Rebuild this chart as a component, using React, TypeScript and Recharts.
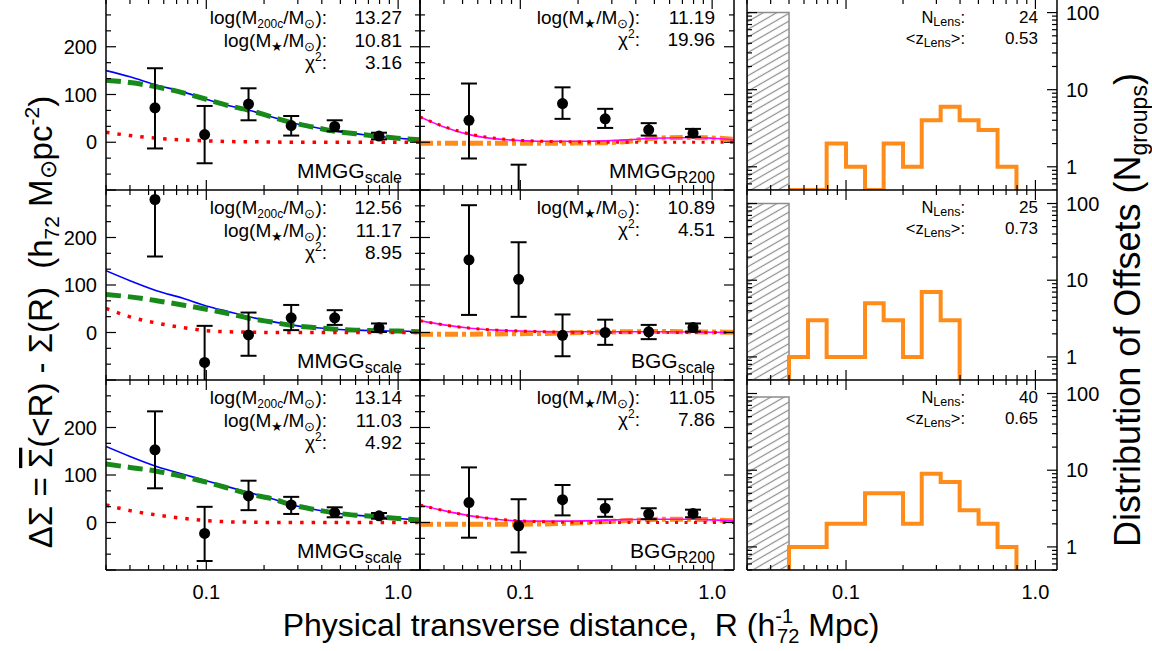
import React from 'react';
import { ComposedChart, Line, Scatter, XAxis, YAxis, ErrorBar, ReferenceArea } from 'recharts';

const FONT = '"Liberation Sans", Arial, Helvetica, sans-serif';

// radial bins of the measured shear profiles (h72^-1 Mpc)
const radii = [0.054, 0.098, 0.166, 0.277, 0.467, 0.795];
const modelR = [0.03, 0.04, 0.055, 0.075, 0.1, 0.13, 0.167, 0.22, 0.28, 0.36, 0.47, 0.6, 0.8, 1.0, 1.3];

// ---- left column: MMGG_scale, halo + stellar fit ----
const obsL1 = [72, 16, 80, 35, 33, 13];
const loL1 = [-13, -44, 46, 14, 23, 6];
const hiL1 = [155, 76, 113, 55, 46, 20];
const totalL1 = [150, 137, 120, 106, 90, 77, 67, 53, 41, 32, 23, 18, 12, 8.5, 5];
const haloL1 = [130, 125, 116, 104, 90, 77, 67, 53, 41, 32, 23, 18, 12, 8.5, 5];
const starL1 = [21, 14, 8.5, 5, 3, 1.5, 1, 0.5, 0, 0, 0, 0, 0, 0, 0];

const obsL2 = [280, -63, -5, 31, 31, 10];
const loL2 = [160, -140, -49, 5, 16, 1];
const hiL2 = [400, 14, 42, 58, 47, 19];
const totalL2 = [130, 109, 88, 72.5, 56, 44, 33, 23, 15.5, 10.5, 7, 5, 3.5, 3, 1.5];
const haloL2 = [80, 75, 67, 58, 49, 40, 30, 22, 15, 10.5, 7, 5, 3.5, 3, 1.5];
const starL2 = [51, 33, 20, 10.5, 4, 1.5, 0.7, 0, 0, 0, 0, 0, 0, 0, 0];

const obsL3 = [153, -23, 56, 37, 21, 14];
const loL3 = [72, -81, 26, 18, 11, 8];
const hiL3 = [234, 33, 88, 54, 32, 20];
const totalL3 = [160, 139, 118, 102, 88, 75, 63, 50, 37, 28, 20, 15.5, 12, 8.5, 5];
const haloL3 = [123, 116, 108, 97, 85, 72.5, 60, 50, 37, 28, 20, 15.5, 12, 8.5, 5];
const starL3 = [37, 25, 16, 9, 4, 1.5, 0.7, 0, 0, 0, 0, 0, 0, 0, 0];

// ---- middle column: other centres, stellar + offset terms ----
const obsM1 = [46, -150, 81, 49, 26, 19];
const loM1 = [-34, -250, 49, 30, 14, 11];
const hiM1 = [123, -47, 115, 70, 40, 28];
const sumM1 = [53, 32, 15.5, 7, 3.5, 2, 2, 2, 3, 5, 8, 9, 10, 8.5, 5];
const offM1 = [-2, -2, -2, -2, -2, -2, -2, -1.5, -1, 1.5, 8, 9.5, 10, 9, 6];
const starM1 = [53, 33, 17, 8, 4, 2, 1, 0.5, 0, 0, 0, 0, 0, 0, 0];

const obsM2 = [153, 112, -6, 0, 1.5, 10.5];
const loM2 = [37, 33, -50, -26, -14, 2];
const hiM2 = [268, 190, 38, 27, 16, 19];
const sumM2 = [25, 16, 9, 5, 3, 2, 1.5, 1.5, 1.5, 1.5, 1.5, 1.5, 1, 0.5, 0];
const offM2 = [-3.5, -3.5, -3.5, -3, -2.5, -2, -1, 0, 1, 1.5, 2, 2, 1.5, 1, 0.5];
const starM2 = [25, 16, 9, 5, 3, 1.5, 0.7, 0, 0, 0, 0, 0, 0, 0, 0];

const obsM3 = [42, -7, 48, 30, 18, 19];
const loM3 = [-32, -63, 15, 12, 7, 11];
const hiM3 = [116, 49, 79, 49, 30, 27];
const sumM3 = [37, 25, 14, 7, 3.5, 3, 3, 3.5, 5, 6, 7, 7, 7, 5.5, 3.5];
const offM3 = [-3.5, -3.5, -3.5, -3.5, -3.5, -3, -2, 0, 2, 4, 6, 7, 7, 5.5, 3.5];
const starM3 = [37, 25, 14, 7, 3.5, 1.5, 0.7, 0, 0, 0, 0, 0, 0, 0, 0];

// ---- right column: offset histograms ----
const offsetEdges = [0.05, 0.063, 0.079, 0.1, 0.126, 0.158, 0.2, 0.251, 0.316, 0.398, 0.501, 0.631, 0.794];
const counts1 = [0, 0, 2, 1, 0, 2, 1, 4, 6, 4, 3, 1];
const counts2 = [1, 3, 1, 1, 5, 3, 1, 7, 3];
const counts3 = [1, 1, 2, 2, 5, 5, 2, 9, 7, 3, 2, 1];
const zeroOffset = [100, 100, 90];

// annotations
const haloMass = ['13.27', '12.56', '13.14'];
const starMassL = ['10.81', '11.17', '11.03'];
const chiL = ['3.16', '8.95', '4.92'];
const starMassM = ['11.19', '10.89', '11.05'];
const chiM = ['19.96', '4.51', '7.86'];
const nLens = ['24', '25', '40'];
const zLens = ['0.53', '0.73', '0.65'];
const midLabels = [['MMGG', 'R200'], ['BGG', 'scale'], ['BGG', 'R200']];

// ticks
const xTicks = [0.03, 0.04, 0.05, 0.06, 0.07, 0.08, 0.09, 0.1, 0.2, 0.3, 0.4, 0.5, 0.6, 0.7, 0.8, 0.9, 1];
const xMajor = [0.1, 1];
const yTicks = [-100, -66.667, -33.333, 0, 33.333, 66.667, 100, 133.333, 166.667, 200, 233.333, 266.667, 300];
const yMajor = [-100, 0, 100, 200, 300];
const yLabeled = [0, 100, 200];
const logTicks = [0.5, 0.6, 0.7, 0.8, 0.9, 1, 2, 3, 4, 5, 6, 7, 8, 9, 10, 20, 30, 40, 50, 60, 70, 80, 90, 100];
const logMajor = [1, 10, 100];

// layout
const colX = [106, 420, 747];
const colW = [314, 314, 310];
const rowY = [-1, 190, 380];
const rowH = [191, 190, 190];
const PAD_L = 70, PAD_R = 70, PAD_T = 10, PAD_B = 40;
const frame = { stroke: '#000', strokeWidth: 1.5 };

const xTick = (side: 'bottom' | 'top', labelled: boolean) => (props: any) => {
  const { x, y, payload } = props;
  const v = payload.value;
  const major = xMajor.includes(v);
  const dir = side === 'bottom' ? -1 : 1;
  return (
    <g>
      <line x1={x} x2={x} y1={y} y2={y + dir * (major ? 10 : 5)} stroke="#000" strokeWidth={1.2} />
      {labelled && major && (
        <text x={x} y={y + 29} textAnchor="middle" fontSize={20} fontFamily={FONT} fill="#000">
          {v === 1 ? '1.0' : '0.1'}
        </text>
      )}
    </g>
  );
};

const yTick = (side: 'left' | 'right', majors: number[], labels: number[]) => (props: any) => {
  const { x, y, payload } = props;
  const v = payload.value;
  const major = majors.includes(v);
  const dir = side === 'left' ? 1 : -1;
  return (
    <g>
      <line x1={x} x2={x + dir * (major ? 10 : 5)} y1={y} y2={y} stroke="#000" strokeWidth={1.2} />
      {labels.includes(v) && (
        <text x={x - dir * 9} y={y} dy="0.36em" textAnchor={side === 'left' ? 'end' : 'start'}
          fontSize={20} fontFamily={FONT} fill="#000">{v}</text>
      )}
    </g>
  );
};

type Curve = { values: number[]; color: string; width: number; dash?: string };

function panelAxes(yDomain: number[], log: boolean, bottomLabels: boolean, leftLabels: number[], rightLabels: number[]) {
  const yt = log ? logTicks : yTicks;
  const ym = log ? logMajor : yMajor;
  const common = { type: 'number' as const, allowDataOverflow: true, interval: 0 as const, tickSize: 0, tickMargin: 0, tickLine: false, axisLine: frame };
  return [
    <XAxis key="xb" xAxisId="b" {...common} dataKey="x" scale="log" domain={[0.03, 1.3]} ticks={xTicks}
      height={PAD_B} tick={xTick('bottom', bottomLabels)} />,
    <XAxis key="xt" xAxisId="t" {...common} orientation="top" dataKey="x" scale="log" domain={[0.03, 1.3]} ticks={xTicks}
      height={PAD_T} tick={xTick('top', false)} />,
    <YAxis key="yl" yAxisId="l" {...common} dataKey="y" scale={log ? 'log' : 'linear'} domain={yDomain} ticks={yt}
      width={PAD_L} tick={yTick('left', ym, leftLabels)} />,
    <YAxis key="yr" yAxisId="r" {...common} orientation="right" dataKey="y" scale={log ? 'log' : 'linear'} domain={yDomain} ticks={yt}
      width={PAD_R} tick={yTick('right', ym, rightLabels)} />,
  ];
}

// a panel box: the outer div clips marks that run past the top/bottom frame
function PanelBox({ col, row, children }: { col: number; row: number; children: React.ReactNode }) {
  const extra = row === 2 ? PAD_B : 0;
  return (
    <div style={{ position: 'absolute', left: colX[col] - PAD_L, top: rowY[row], width: colW[col] + PAD_L + PAD_R, height: rowH[row] + extra, overflow: 'hidden' }}>
      <div style={{ position: 'absolute', left: 0, top: -PAD_T }}>{children}</div>
    </div>
  );
}

function ProfilePanel({ col, row, obs, lo, hi, curves }: { col: number; row: number; obs: number[]; lo: number[]; hi: number[]; curves: Curve[] }) {
  const points = radii.map((r, i) => ({ x: r, y: obs[i], err: [obs[i] - lo[i], hi[i] - obs[i]] }));
  return (
    <PanelBox col={col} row={row}>
      <ComposedChart width={colW[col] + PAD_L + PAD_R} height={rowH[row] + PAD_T + PAD_B} margin={{ top: 0, right: 0, bottom: 0, left: 0 }}>
        {panelAxes([-100, 300], false, row === 2, col === 0 ? yLabeled : [], [])}
        {curves.map((c, k) => (
          <Line key={k} xAxisId="b" yAxisId="l" data={modelR.map((r, i) => ({ x: r, y: c.values[i] }))} dataKey="y"
            type="monotone" stroke={c.color} strokeWidth={c.width} strokeDasharray={c.dash} dot={false} activeDot={false}
            isAnimationActive={false} />
        ))}
        <Scatter xAxisId="b" yAxisId="l" data={points} dataKey="y" isAnimationActive={false}
          shape={(p: any) => <circle cx={p.cx} cy={p.cy} r={5.5} fill="#000" />}>
          <ErrorBar dataKey="err" direction="y" width={8} stroke="#000" strokeWidth={2} isAnimationActive={false} />
        </Scatter>
      </ComposedChart>
    </PanelBox>
  );
}

function HistPanel({ row, counts }: { row: number; counts: number[] }) {
  const floor = 0.5; // empty bins sit on the axis floor
  const steps = [{ x: offsetEdges[0], y: floor }];
  counts.forEach((c, i) => steps.push({ x: offsetEdges[i], y: Math.max(c, floor) }));
  steps.push({ x: offsetEdges[counts.length], y: floor });
  return (
    <PanelBox col={2} row={row}>
      <ComposedChart width={colW[2] + PAD_L + PAD_R} height={rowH[row] + PAD_T + PAD_B} margin={{ top: 0, right: 0, bottom: 0, left: 0 }}>
        {panelAxes([0.5, 150], true, row === 2, [], logMajor)}
        <ReferenceArea xAxisId="b" yAxisId="l" x1={0.03} x2={offsetEdges[0]} y1={floor} y2={zeroOffset[row]}
          fill="url(#hatch)" fillOpacity={1} stroke="#8c8c8c" strokeWidth={1.5} ifOverflow="hidden" />
        <Line xAxisId="b" yAxisId="l" data={steps} dataKey="y" type="stepAfter" stroke="#ff8c1a" strokeWidth={4}
          dot={false} activeDot={false} isAnimationActive={false} />
      </ComposedChart>
    </PanelBox>
  );
}

const BLUE = '#0000ff', GREEN = '#178a1a', RED = '#ff0000', MAG = '#ff00ff', ORANGE = '#ff8c1a';
const leftCurves = (total: number[], halo: number[], star: number[]): Curve[] => [
  { values: total, color: BLUE, width: 1.6 },
  { values: halo, color: GREEN, width: 5, dash: '15 7' },
  { values: star, color: RED, width: 3.5, dash: '3.5 8' },
];
const midCurves = (sum: number[], off: number[], star: number[]): Curve[] => [
  { values: off, color: ORANGE, width: 5, dash: '13 4 4 4' },
  { values: sum, color: MAG, width: 1.6 },
  { values: star, color: RED, width: 3, dash: '3 6.5' },
];

const T = (p: any) => <text fontFamily={FONT} fill="#000" style={{ whiteSpace: 'pre' }} {...p} />;

function Annotations() {
  return (
    <svg width={1152} height={651} style={{ position: 'absolute', left: 0, top: 0, pointerEvents: 'none' }}>
      {[0, 190, 380].map((y0, r) => (
        <g key={r}>
          {/* left column */}
          <T x={327} y={y0 + 23.5} fontSize={19} textAnchor="end">
            log(M<tspan fontSize={12} dy={4}>200c</tspan><tspan dy={-4}>/M</tspan><tspan fontSize={13} dy={4}>⊙</tspan><tspan dy={-4}>):</tspan>
          </T>
          <T x={402} y={y0 + 23.5} fontSize={19} textAnchor="end">{haloMass[r]}</T>
          <T x={327} y={y0 + 46.5} fontSize={19} textAnchor="end">
            log(M<tspan fontSize={13} dy={4}>★</tspan><tspan dy={-4}>/M</tspan><tspan fontSize={13} dy={4}>⊙</tspan><tspan dy={-4}>):</tspan>
          </T>
          <T x={402} y={y0 + 46.5} fontSize={19} textAnchor="end">{starMassL[r]}</T>
          <T x={327} y={y0 + 68.5} fontSize={19} textAnchor="end">
            χ<tspan fontSize={12} dy={-8}>2</tspan><tspan dy={8}>:</tspan>
          </T>
          <T x={402} y={y0 + 68.5} fontSize={19} textAnchor="end">{chiL[r]}</T>
          <T x={402} y={y0 + 178} fontSize={21} textAnchor="end">
            MMGG<tspan fontSize={16} dy={5}>scale</tspan>
          </T>
          {/* middle column */}
          <T x={640} y={y0 + 23.5} fontSize={19} textAnchor="end">
            log(M<tspan fontSize={13} dy={4}>★</tspan><tspan dy={-4}>/M</tspan><tspan fontSize={13} dy={4}>⊙</tspan><tspan dy={-4}>):</tspan>
          </T>
          <T x={715} y={y0 + 23.5} fontSize={19} textAnchor="end">{starMassM[r]}</T>
          <T x={640} y={y0 + 45.5} fontSize={19} textAnchor="end">
            χ<tspan fontSize={12} dy={-8}>2</tspan><tspan dy={8}>:</tspan>
          </T>
          <T x={715} y={y0 + 45.5} fontSize={19} textAnchor="end">{chiM[r]}</T>
          <T x={715} y={y0 + 178} fontSize={21} textAnchor="end">
            {midLabels[r][0]}<tspan fontSize={16} dy={5}>{midLabels[r][1]}</tspan>
          </T>
          {/* right column */}
          <T x={965} y={y0 + 23} fontSize={16.5} textAnchor="end">
            N<tspan fontSize={12.5} dy={3}>Lens</tspan><tspan dy={-3}>:</tspan>
          </T>
          <T x={1038} y={y0 + 23} fontSize={17} textAnchor="end">{nLens[r]}</T>
          <T x={965} y={y0 + 43.5} fontSize={16.5} textAnchor="end">
            {'<z'}<tspan fontSize={12.5} dy={3}>Lens</tspan><tspan dy={-3}>{'>:'}</tspan>
          </T>
          <T x={1038} y={y0 + 43.5} fontSize={17} textAnchor="end">{zLens[r]}</T>
        </g>
      ))}
      <T x={0} y={0} fontSize={33} textAnchor="middle" transform="translate(52,322) rotate(-90)">
        {'ΔΣ = '}<tspan style={{ textDecoration: 'overline' }}>Σ</tspan>{'(<R) - Σ(R)  (h'}<tspan fontSize={21} dy={7}>72</tspan><tspan dy={-7}> M</tspan>
        <tspan fontSize={23} dy={4}>⊙</tspan><tspan dy={-4}>pc</tspan><tspan fontSize={21} dy={-13}>-2</tspan><tspan dy={13}>)</tspan>
      </T>
      <T x={0} y={0} fontSize={36} textAnchor="middle" transform="translate(1140,310) rotate(-90)">
        Distribution of Offsets (N<tspan fontSize={23} dy={7}>groups</tspan><tspan dy={-7}>)</tspan>
      </T>
      <T x={581} y={636} fontSize={32} textAnchor="middle">
        Physical transverse distance,  R (h<tspan fontSize={20} dy={-13}>-1</tspan><tspan fontSize={20} dx={-16} dy={20}>72</tspan><tspan dy={-7}> Mpc)</tspan>
      </T>
    </svg>
  );
}

export default function App() {
  return (
    <div style={{ position: 'absolute', left: 0, top: 0, width: 1152, height: 651, background: '#fff', overflow: 'hidden' }}>
      <svg width={0} height={0} style={{ position: 'absolute' }}>
        <defs>
          <pattern id="hatch" patternUnits="userSpaceOnUse" width={12} height={6.7} patternTransform="rotate(-30)">
            <line x1={0} y1={3.35} x2={12} y2={3.35} stroke="#8c8c8c" strokeWidth={1.2} />
          </pattern>
        </defs>
      </svg>
      <ProfilePanel col={0} row={0} obs={obsL1} lo={loL1} hi={hiL1} curves={leftCurves(totalL1, haloL1, starL1)} />
      <ProfilePanel col={0} row={1} obs={obsL2} lo={loL2} hi={hiL2} curves={leftCurves(totalL2, haloL2, starL2)} />
      <ProfilePanel col={0} row={2} obs={obsL3} lo={loL3} hi={hiL3} curves={leftCurves(totalL3, haloL3, starL3)} />
      <ProfilePanel col={1} row={0} obs={obsM1} lo={loM1} hi={hiM1} curves={midCurves(sumM1, offM1, starM1)} />
      <ProfilePanel col={1} row={1} obs={obsM2} lo={loM2} hi={hiM2} curves={midCurves(sumM2, offM2, starM2)} />
      <ProfilePanel col={1} row={2} obs={obsM3} lo={loM3} hi={hiM3} curves={midCurves(sumM3, offM3, starM3)} />
      <HistPanel row={0} counts={counts1} />
      <HistPanel row={1} counts={counts2} />
      <HistPanel row={2} counts={counts3} />
      <Annotations />
    </div>
  );
}
